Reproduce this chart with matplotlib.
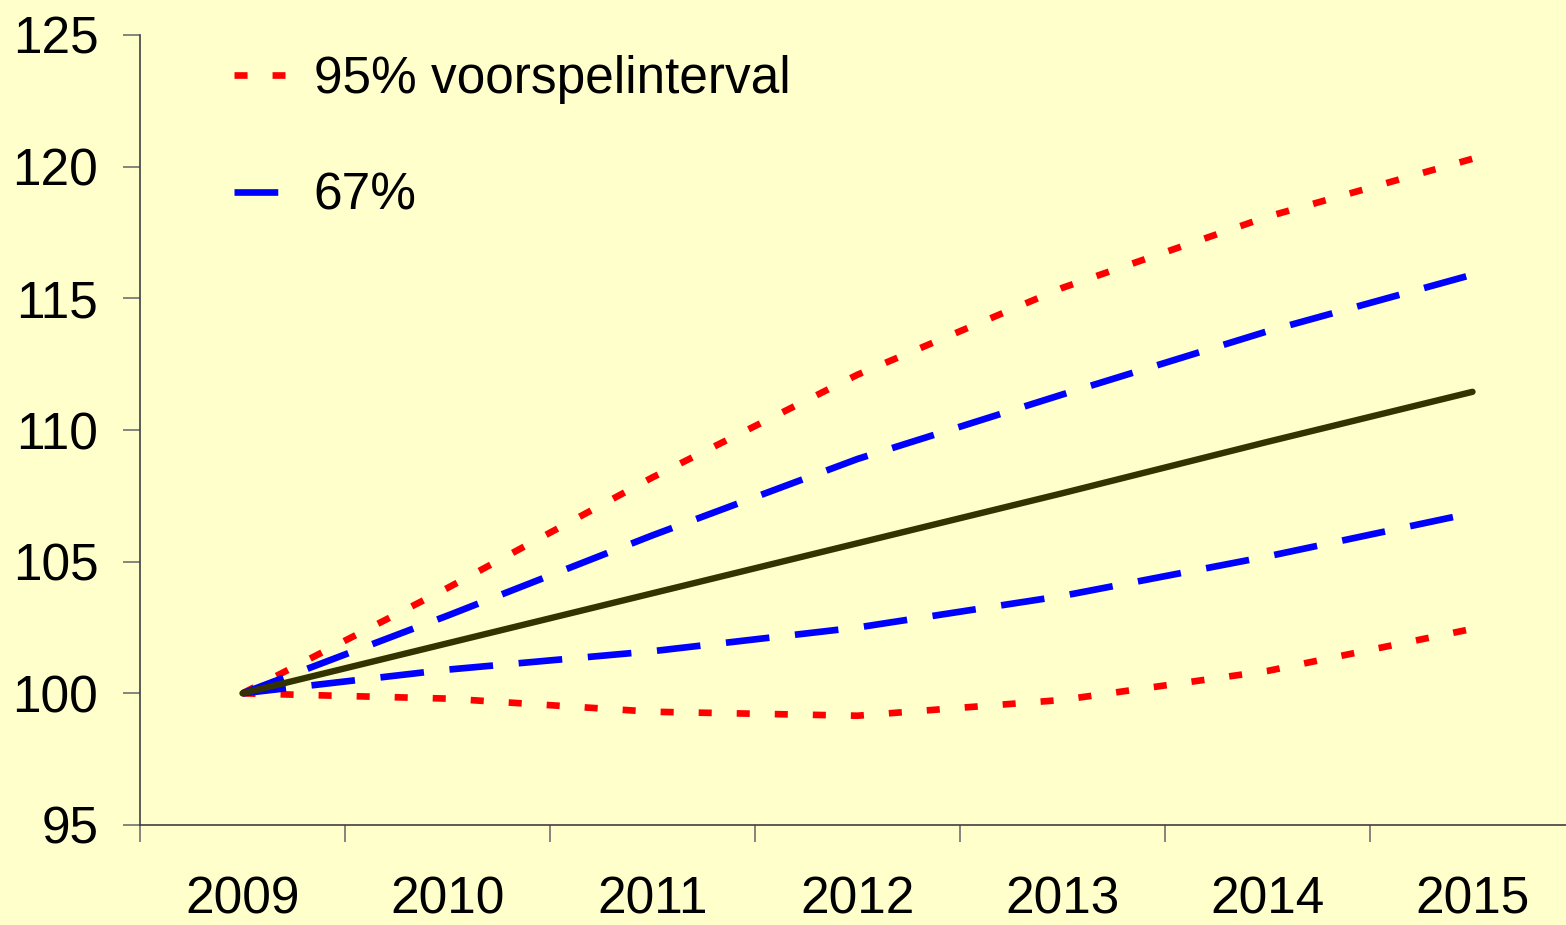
import matplotlib
matplotlib.use("Agg")
import matplotlib.pyplot as plt
from matplotlib.ticker import FixedLocator

years = ["2009", "2010", "2011", "2012", "2013", "2014", "2015"]
central = [100, 101.9, 103.8, 105.7, 107.6, 109.55, 111.45]
upper95 = [100, 104.0, 108.2, 112.1, 115.4, 118.1, 120.3]
upper67 = [100, 102.95, 106.0, 108.9, 111.35, 113.75, 115.9]
lower67 = [100, 100.9, 101.6, 102.5, 103.7, 105.2, 106.85]
lower95 = [100, 99.8, 99.3, 99.15, 99.75, 100.85, 102.45]
yticks = [95, 100, 105, 110, 115, 120, 125]

plt.rcParams['font.family'] = ['Liberation Sans', 'DejaVu Sans']
plt.rcParams['lines.scale_dashes'] = False

bg = '#FFFFCC'
fig = plt.figure(figsize=(15.66, 9.25), dpi=100, facecolor=bg)
ax = fig.add_axes([140/1566, 100/925, 1435/1566, 790/925])
ax.set_facecolor(bg)

x = list(range(len(years)))
red_kw = dict(color='#FF0000', lw=4.8, dashes=(9.4, 18), dash_capstyle='butt')
blue_kw = dict(color='#0000FF', lw=4.8, dashes=(31.5, 18.5), dash_capstyle='butt')

ax.plot(x, upper95, label='95% voorspelinterval', **red_kw)
ax.plot(x, lower95, **red_kw)
ax.plot(x, upper67, label='67%', **blue_kw)
ax.plot(x, lower67, **blue_kw)
ax.plot(x, central, color='#333300', lw=4.6, solid_capstyle='round')

ax.set_xlim(-0.5, len(years) - 0.5)
ax.set_ylim(95, 125)
ax.set_yticks(yticks)
ax.set_yticklabels([str(v) for v in yticks])
ax.set_xticks(x)
ax.set_xticklabels(years)
ax.xaxis.set_minor_locator(FixedLocator([i - 0.5 for i in range(len(years) + 1)]))

for s in ['top', 'right']:
    ax.spines[s].set_visible(False)
for s in ['left', 'bottom']:
    ax.spines[s].set_color('#404040')
    ax.spines[s].set_linewidth(1.2)

ax.tick_params(axis='x', which='major', length=0, pad=36.5, labelsize=37)
ax.tick_params(axis='x', which='minor', length=12, width=1.2, color='#707070', direction='out')
ax.tick_params(axis='y', which='major', length=12, width=1.2, color='#707070', pad=18, labelsize=37)

leg = ax.legend(loc='upper left', bbox_to_anchor=(234/1566, 1 - 55/925),
                bbox_transform=fig.transFigure, frameon=False, fontsize=37,
                handlelength=1.0, handletextpad=0.55, labelspacing=1.32,
                borderpad=0, borderaxespad=0)

fig.savefig('out.png', dpi=100, facecolor=bg)
